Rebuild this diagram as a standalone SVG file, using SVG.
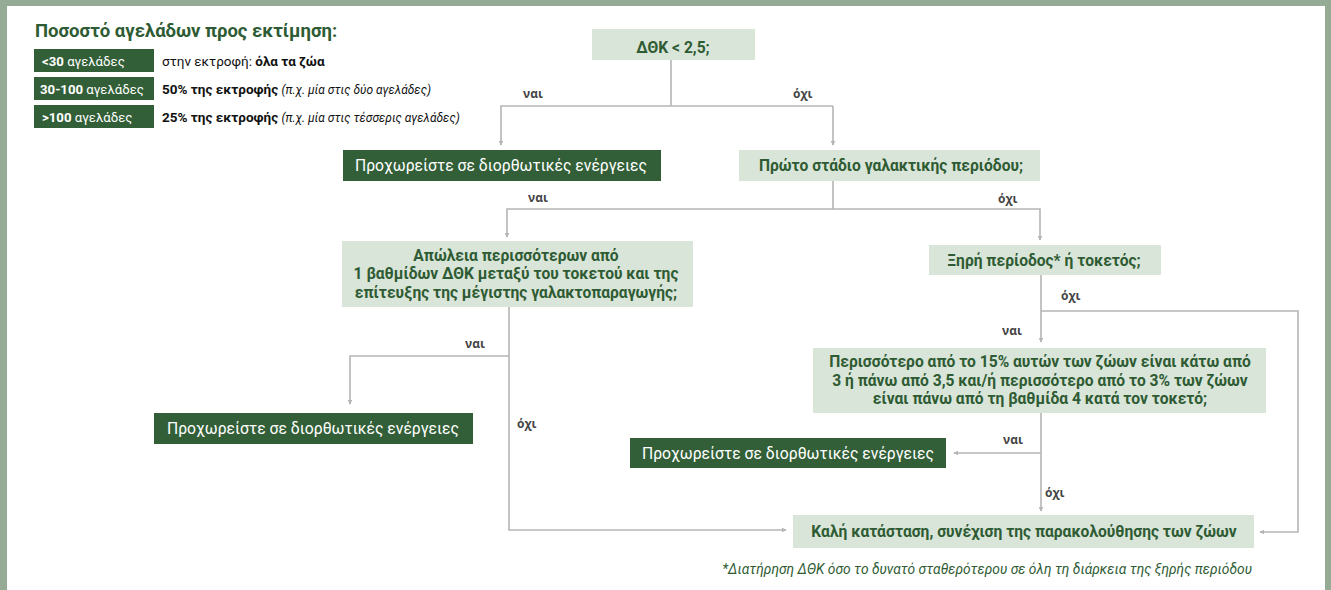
<svg xmlns="http://www.w3.org/2000/svg" width="1331" height="590" viewBox="0 0 1331 590">
<defs>
<style>
.t{font-family:Roboto,"Liberation Sans",sans-serif}
.light{fill:#d9e5d8}
.dark{fill:#335f38}
.gt{font-family:Roboto,"Liberation Sans",sans-serif;font-weight:bold;fill:#2e5b33;font-size:15.6px;text-anchor:middle}
.wt{font-family:Roboto,"Liberation Sans",sans-serif;fill:#ffffff;font-size:15.7px;text-anchor:middle}
.lbl{font-family:"Open Sans","DejaVu Sans",sans-serif;font-weight:bold;fill:#444;font-size:12px}
.c{fill:none;stroke:#b5b5b5;stroke-width:1.6}
</style>
<marker id="ah" viewBox="0 0 8 8" refX="7" refY="4" markerWidth="5" markerHeight="5" orient="auto" markerUnits="userSpaceOnUse">
<path d="M0,0 L8,4 L0,8 Z" fill="#b5b5b5"/>
</marker>
</defs>
<rect width="1331" height="590" fill="#96ab96"/>
<rect x="7" y="6" width="1318" height="584" fill="#ffffff"/>

<g id="legend">
<text class="t" x="35" y="37" font-size="18.5" font-weight="bold" fill="#2e5b33">Ποσοστό αγελάδων προς εκτίμηση:</text>
<rect class="dark" x="34" y="49" width="120" height="23"/>
<text class="t" x="42" y="65.5" font-size="13.2" fill="#fff"><tspan font-weight="bold">&lt;30</tspan> αγελάδες</text>
<text class="t" x="162" y="65.5" font-size="13.5" fill="#111">στην εκτροφή: <tspan font-weight="bold">όλα τα ζώα</tspan></text>
<rect class="dark" x="34" y="77" width="120" height="23"/>
<text class="t" x="40" y="93.5" font-size="13.2" fill="#fff"><tspan font-weight="bold">30-100</tspan> αγελάδες</text>
<text class="t" x="162" y="93.5" font-size="13.5" fill="#111"><tspan font-weight="bold">50% της εκτροφής</tspan> <tspan font-style="italic" font-size="12">(π.χ. μία στις δύο αγελάδες)</tspan></text>
<rect class="dark" x="34" y="105" width="120" height="23"/>
<text class="t" x="42" y="121.5" font-size="13.2" fill="#fff"><tspan font-weight="bold">&gt;100</tspan> αγελάδες</text>
<text class="t" x="162" y="121.5" font-size="13.5" fill="#111"><tspan font-weight="bold">25% της εκτροφής</tspan> <tspan font-style="italic" font-size="12">(π.χ. μία στις τέσσερις αγελάδες)</tspan></text>
</g>

<g id="connectors">
<path class="c" d="M671,60 V106"/>
<path class="c" d="M833,106 H501 V145" marker-end="url(#ah)"/>
<path class="c" d="M833,106 V145" marker-end="url(#ah)"/>
<path class="c" d="M833,181 V209"/>
<path class="c" d="M833,209 H507 V237" marker-end="url(#ah)"/>
<path class="c" d="M833,209 H1040 V240" marker-end="url(#ah)"/>
<path class="c" d="M509,307 V530 H786" marker-end="url(#ah)"/>
<path class="c" d="M509,356 H350 V404" marker-end="url(#ah)"/>
<path class="c" d="M1041,275 V342" marker-end="url(#ah)"/>
<path class="c" d="M1041,311 H1298 V532 H1260" marker-end="url(#ah)"/>
<path class="c" d="M1041,413 V511" marker-end="url(#ah)"/>
<path class="c" d="M1041,453 H954" marker-end="url(#ah)"/>
<text class="lbl" x="523" y="98">ναι</text>
<text class="lbl" x="793" y="98">όχι</text>
<text class="lbl" x="528" y="202">ναι</text>
<text class="lbl" x="998" y="203">όχι</text>
<text class="lbl" x="1061" y="300">όχι</text>
<text class="lbl" x="1002" y="335">ναι</text>
<text class="lbl" x="465" y="348">ναι</text>
<text class="lbl" x="517" y="428">όχι</text>
<text class="lbl" x="1003" y="444">ναι</text>
<text class="lbl" x="1045" y="497">όχι</text>
</g>

<g id="n1">
<rect class="light" x="592" y="29" width="163" height="31"/>
<text class="gt" x="673" y="52.5" font-size="19.5">ΔΘΚ &lt; 2,5;</text>
</g>
<g id="n2">
<rect class="dark" x="343" y="150" width="318" height="31"/>
<text class="wt" x="501" y="171">Προχωρείστε σε διορθωτικές ενέργειες</text>
</g>
<g id="n3">
<rect class="light" x="739" y="150" width="301" height="31"/>
<text class="gt" x="891" y="171" font-size="16">Πρώτο στάδιο γαλακτικής περιόδου;</text>
</g>
<g id="n4">
<rect class="light" x="342" y="241" width="351" height="66"/>
<text class="gt" x="516" y="261">Απώλεια περισσότερων από</text>
<text class="gt" x="516" y="279">1 βαθμίδων ΔΘΚ μεταξύ του τοκετού και της</text>
<text class="gt" x="516" y="298">επίτευξης της μέγιστης γαλακτοπαραγωγής;</text>
</g>
<g id="n5">
<rect class="light" x="929" y="245" width="232" height="30"/>
<text class="gt" x="1044" y="265.5" font-size="16">Ξηρή περίοδος* ή τοκετός;</text>
</g>
<g id="n6">
<rect class="dark" x="154" y="413" width="319" height="31"/>
<text class="wt" x="313" y="434">Προχωρείστε σε διορθωτικές ενέργειες</text>
</g>
<g id="n7">
<rect class="light" x="813" y="348" width="453" height="65"/>
<text class="gt" x="1040" y="367">Περισσότερο από το 15% αυτών των ζώων είναι κάτω από</text>
<text class="gt" x="1040" y="386">3 ή πάνω από 3,5 και/ή περισσότερο από το 3% των ζώων</text>
<text class="gt" x="1040" y="404">είναι πάνω από τη βαθμίδα 4 κατά τον τοκετό;</text>
</g>
<g id="n8">
<rect class="dark" x="630" y="438" width="316" height="30"/>
<text class="wt" x="788" y="458.5">Προχωρείστε σε διορθωτικές ενέργειες</text>
</g>
<g id="n9">
<rect class="light" x="793" y="515" width="461" height="33"/>
<text class="gt" x="1024" y="537" font-size="16.6">Καλή κατάσταση, συνέχιση της παρακολούθησης των ζώων</text>
</g>
<text class="t" x="1252" y="574" font-size="13.8" font-style="italic" fill="#2e5b33" text-anchor="end">*Διατήρηση ΔΘΚ όσο το δυνατό σταθερότερου σε όλη τη διάρκεια της ξηρής περιόδου</text>
</svg>
